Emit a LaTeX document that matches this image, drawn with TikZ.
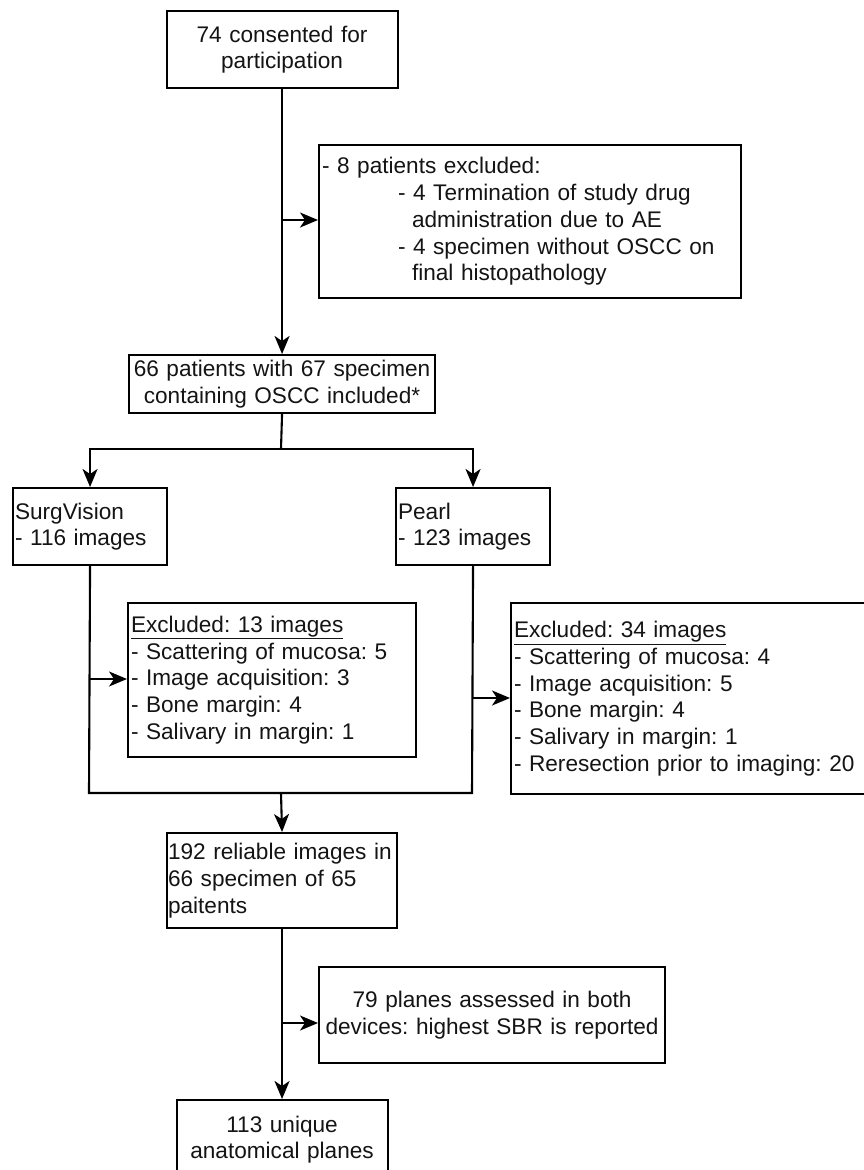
\documentclass[tikz,border=0pt]{standalone}
\usepackage{fontspec}
\setmainfont{Liberation Sans}
\usetikzlibrary{arrows.meta}
\frenchspacing
\tikzset{
  box/.style={draw=black, line width=2.1pt, rectangle, anchor=north west, inner xsep=3pt, inner ysep=0pt,
    font=\fontsize{22.6}{26.7}\selectfont\frenchspacing, text=black!92},
  lbox/.style={box, align=left},
  cbox/.style={box, align=center},
  conn/.style={line width=2.1pt, black},
  arr/.style={conn, -{Stealth[length=18pt, width=15pt, inset=5pt]}},
}
\begin{document}
\begin{tikzpicture}[x=1pt, y=-1pt]
\useasboundingbox (0,0) rectangle (864,1170);
\clip (0,0) rectangle (864,1170);
\fill[white] (0,0) rectangle (864,1170);

\node[cbox, minimum width=231pt, minimum height=77pt, text width=225pt] (n1) at (165.5,10)
  {74 consented for\\participation};
\node[lbox, minimum width=422pt, minimum height=153pt, text width=416pt] (ex1) at (318,144)
  {- 8 patients excluded:\\
   \hspace*{76pt}- 4 Termination of study drug\\
   \hspace*{90pt}administration due to AE\\
   \hspace*{76pt}- 4 specimen without OSCC on\\
   \hspace*{90pt}final histopathology};
\node[cbox, minimum width=306pt, minimum height=58pt, text width=302pt, inner xsep=2pt] (n2) at (128,354)
  {66 patients with 67 specimen\\containing OSCC included*};
\node[lbox, minimum width=154pt, minimum height=77pt, text width=150pt, inner xsep=2pt] (sv) at (12,487)
  {SurgVision\\- 116 images};
\node[lbox, minimum width=154pt, minimum height=77pt, text width=150pt, inner xsep=2pt] (pe) at (395,487)
  {Pearl\\- 123 images};
\node[lbox, minimum width=288pt, minimum height=154pt, text width=282pt] (ex2) at (127,602)
  {\underline{Excluded: 13 images}\\- Scattering of mucosa: 5\\- Image acquisition: 3\\- Bone margin: 4\\- Salivary in margin: 1};
\node[lbox, minimum width=400pt, minimum height=191pt, text width=394pt] (ex3) at (510,602)
  {\underline{Excluded: 34 images}\\- Scattering of mucosa: 4\\- Image acquisition: 5\\- Bone margin: 4\\- Salivary in margin: 1\\- Reresection prior to imaging: 20};
\node[lbox, minimum width=230pt, minimum height=95pt, text width=228pt, inner xsep=1pt] (n3) at (166,832)
  {192 reliable images in\\66 specimen of 65\\paitents};
\node[cbox, minimum width=346pt, minimum height=96pt, text width=344pt, inner xsep=1pt] (ex4) at (318,966)
  {79 planes assessed in both\\devices: highest SBR is reported};
\node[cbox, minimum width=211pt, minimum height=79pt, text width=205pt] (n4) at (175.5,1099)
  {113 unique\\anatomical planes};

\coordinate (s1) at (281,220);
\coordinate (split) at (281,449);
\coordinate (svx) at (89,679);
\coordinate (pex) at (472,698);
\coordinate (mL) at (89,793);
\coordinate (mR) at (472,793);
\coordinate (mC) at (281,793);
\coordinate (s4) at (281,1023);

\draw[arr] (n1.south) -- (n2.north);
\draw[arr] (s1) -- (s1 -| ex1.west);
\draw[conn] (n2.south) -- (split);
\draw[arr] (split) -| (sv.north);
\draw[arr] (split) -| (pe.north);
\draw[conn] (sv.south) -- (mL) -- (mR) -- (pe.south);
\draw[arr] (svx) -- (svx -| ex2.west);
\draw[arr] (pex) -- (pex -| ex3.west);
\draw[arr] (mC) -- (n3.north);
\draw[arr] (n3.south) -- (n4.north);
\draw[arr] (s4) -- (s4 -| ex4.west);
\end{tikzpicture}
\end{document}
